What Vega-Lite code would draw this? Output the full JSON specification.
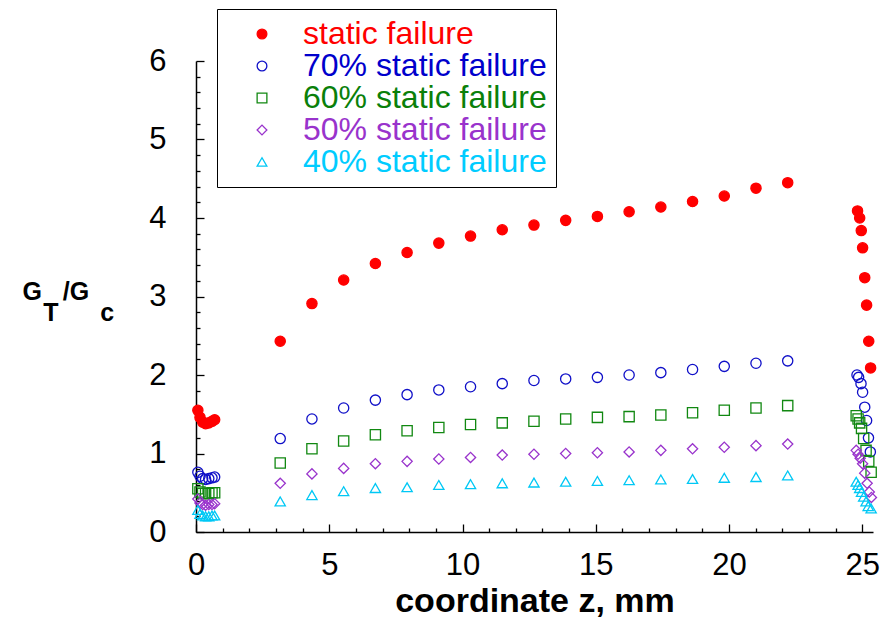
{
  "$schema": "https://vega.github.io/schema/vega-lite/v6.json",
  "width": 677,
  "height": 471,
  "autosize": {"type": "none"},
  "padding": {"left": 196, "top": 61, "right": 19, "bottom": 85},
  "background": "white",
  "config": {
    "view": {"stroke": null},
    "font": "Liberation Sans",
    "axis": {
      "grid": false,
      "domainColor": "black",
      "domainWidth": 1.5,
      "tickColor": "black",
      "tickWidth": 1.3,
      "labelFont": "Liberation Sans",
      "labelFontSize": 31,
      "labelColor": "black",
      "titleFont": "Liberation Sans",
      "titleColor": "black",
      "titleFontWeight": "bold"
    },
    "legend": {
      "title": null,
      "orient": "none",
      "legendX": 21,
      "legendY": -52,
      "strokeColor": "black",
      "fillColor": "white",
      "padding": 9,
      "labelFont": "Liberation Sans",
      "labelFontSize": 32,
      "labelLimit": 600,
      "symbolSize": 95,
      "symbolStrokeWidth": 1.3,
      "symbolOffset": 20,
      "labelOffset": 25,
      "rowPadding": 0
    }
  },
  "data": {
    "values": [
      {"z": 0.07, "g": 1.55, "s": "static failure"},
      {"z": 0.15, "g": 1.46, "s": "static failure"},
      {"z": 0.25, "g": 1.40, "s": "static failure"},
      {"z": 0.36, "g": 1.38, "s": "static failure"},
      {"z": 0.48, "g": 1.39, "s": "static failure"},
      {"z": 0.60, "g": 1.41, "s": "static failure"},
      {"z": 0.70, "g": 1.43, "s": "static failure"},
      {"z": 3.16, "g": 2.43, "s": "static failure"},
      {"z": 4.35, "g": 2.91, "s": "static failure"},
      {"z": 5.54, "g": 3.21, "s": "static failure"},
      {"z": 6.73, "g": 3.42, "s": "static failure"},
      {"z": 7.92, "g": 3.56, "s": "static failure"},
      {"z": 9.11, "g": 3.68, "s": "static failure"},
      {"z": 10.30, "g": 3.77, "s": "static failure"},
      {"z": 11.49, "g": 3.85, "s": "static failure"},
      {"z": 12.68, "g": 3.91, "s": "static failure"},
      {"z": 13.87, "g": 3.97, "s": "static failure"},
      {"z": 15.06, "g": 4.02, "s": "static failure"},
      {"z": 16.25, "g": 4.08, "s": "static failure"},
      {"z": 17.44, "g": 4.14, "s": "static failure"},
      {"z": 18.63, "g": 4.21, "s": "static failure"},
      {"z": 19.82, "g": 4.28, "s": "static failure"},
      {"z": 21.01, "g": 4.38, "s": "static failure"},
      {"z": 22.20, "g": 4.45, "s": "static failure"},
      {"z": 24.82, "g": 4.09, "s": "static failure"},
      {"z": 24.90, "g": 4.00, "s": "static failure"},
      {"z": 24.96, "g": 3.84, "s": "static failure"},
      {"z": 25.01, "g": 3.62, "s": "static failure"},
      {"z": 25.09, "g": 3.24, "s": "static failure"},
      {"z": 25.16, "g": 2.89, "s": "static failure"},
      {"z": 25.24, "g": 2.43, "s": "static failure"},
      {"z": 25.31, "g": 2.09, "s": "static failure"},

      {"z": 0.07, "g": 0.76, "s": "70% static failure"},
      {"z": 0.15, "g": 0.71, "s": "70% static failure"},
      {"z": 0.25, "g": 0.68, "s": "70% static failure"},
      {"z": 0.36, "g": 0.67, "s": "70% static failure"},
      {"z": 0.48, "g": 0.68, "s": "70% static failure"},
      {"z": 0.60, "g": 0.69, "s": "70% static failure"},
      {"z": 0.70, "g": 0.70, "s": "70% static failure"},
      {"z": 3.16, "g": 1.19, "s": "70% static failure"},
      {"z": 4.35, "g": 1.44, "s": "70% static failure"},
      {"z": 5.54, "g": 1.58, "s": "70% static failure"},
      {"z": 6.73, "g": 1.68, "s": "70% static failure"},
      {"z": 7.92, "g": 1.75, "s": "70% static failure"},
      {"z": 9.11, "g": 1.81, "s": "70% static failure"},
      {"z": 10.30, "g": 1.85, "s": "70% static failure"},
      {"z": 11.49, "g": 1.89, "s": "70% static failure"},
      {"z": 12.68, "g": 1.93, "s": "70% static failure"},
      {"z": 13.87, "g": 1.95, "s": "70% static failure"},
      {"z": 15.06, "g": 1.97, "s": "70% static failure"},
      {"z": 16.25, "g": 2.00, "s": "70% static failure"},
      {"z": 17.44, "g": 2.03, "s": "70% static failure"},
      {"z": 18.63, "g": 2.07, "s": "70% static failure"},
      {"z": 19.82, "g": 2.11, "s": "70% static failure"},
      {"z": 21.01, "g": 2.15, "s": "70% static failure"},
      {"z": 22.20, "g": 2.18, "s": "70% static failure"},
      {"z": 24.80, "g": 2.00, "s": "70% static failure"},
      {"z": 24.86, "g": 1.97, "s": "70% static failure"},
      {"z": 24.95, "g": 1.89, "s": "70% static failure"},
      {"z": 25.01, "g": 1.78, "s": "70% static failure"},
      {"z": 25.09, "g": 1.59, "s": "70% static failure"},
      {"z": 25.16, "g": 1.42, "s": "70% static failure"},
      {"z": 25.23, "g": 1.20, "s": "70% static failure"},
      {"z": 25.30, "g": 1.02, "s": "70% static failure"},

      {"z": 0.07, "g": 0.55, "s": "60% static failure"},
      {"z": 0.15, "g": 0.51, "s": "60% static failure"},
      {"z": 0.25, "g": 0.49, "s": "60% static failure"},
      {"z": 0.36, "g": 0.49, "s": "60% static failure"},
      {"z": 0.48, "g": 0.49, "s": "60% static failure"},
      {"z": 0.60, "g": 0.50, "s": "60% static failure"},
      {"z": 0.70, "g": 0.50, "s": "60% static failure"},
      {"z": 3.16, "g": 0.88, "s": "60% static failure"},
      {"z": 4.35, "g": 1.06, "s": "60% static failure"},
      {"z": 5.54, "g": 1.16, "s": "60% static failure"},
      {"z": 6.73, "g": 1.24, "s": "60% static failure"},
      {"z": 7.92, "g": 1.29, "s": "60% static failure"},
      {"z": 9.11, "g": 1.33, "s": "60% static failure"},
      {"z": 10.30, "g": 1.37, "s": "60% static failure"},
      {"z": 11.49, "g": 1.39, "s": "60% static failure"},
      {"z": 12.68, "g": 1.41, "s": "60% static failure"},
      {"z": 13.87, "g": 1.44, "s": "60% static failure"},
      {"z": 15.06, "g": 1.46, "s": "60% static failure"},
      {"z": 16.25, "g": 1.47, "s": "60% static failure"},
      {"z": 17.44, "g": 1.49, "s": "60% static failure"},
      {"z": 18.63, "g": 1.52, "s": "60% static failure"},
      {"z": 19.82, "g": 1.55, "s": "60% static failure"},
      {"z": 21.01, "g": 1.58, "s": "60% static failure"},
      {"z": 22.20, "g": 1.61, "s": "60% static failure"},
      {"z": 24.77, "g": 1.48, "s": "60% static failure"},
      {"z": 24.84, "g": 1.44, "s": "60% static failure"},
      {"z": 24.90, "g": 1.39, "s": "60% static failure"},
      {"z": 24.97, "g": 1.32, "s": "60% static failure"},
      {"z": 25.05, "g": 1.19, "s": "60% static failure"},
      {"z": 25.14, "g": 1.04, "s": "60% static failure"},
      {"z": 25.24, "g": 0.90, "s": "60% static failure"},
      {"z": 25.33, "g": 0.76, "s": "60% static failure"},

      {"z": 0.07, "g": 0.42, "s": "50% static failure"},
      {"z": 0.15, "g": 0.37, "s": "50% static failure"},
      {"z": 0.25, "g": 0.35, "s": "50% static failure"},
      {"z": 0.36, "g": 0.34, "s": "50% static failure"},
      {"z": 0.48, "g": 0.35, "s": "50% static failure"},
      {"z": 0.60, "g": 0.35, "s": "50% static failure"},
      {"z": 0.70, "g": 0.36, "s": "50% static failure"},
      {"z": 3.16, "g": 0.62, "s": "50% static failure"},
      {"z": 4.35, "g": 0.74, "s": "50% static failure"},
      {"z": 5.54, "g": 0.81, "s": "50% static failure"},
      {"z": 6.73, "g": 0.87, "s": "50% static failure"},
      {"z": 7.92, "g": 0.90, "s": "50% static failure"},
      {"z": 9.11, "g": 0.93, "s": "50% static failure"},
      {"z": 10.30, "g": 0.95, "s": "50% static failure"},
      {"z": 11.49, "g": 0.98, "s": "50% static failure"},
      {"z": 12.68, "g": 0.99, "s": "50% static failure"},
      {"z": 13.87, "g": 1.00, "s": "50% static failure"},
      {"z": 15.06, "g": 1.01, "s": "50% static failure"},
      {"z": 16.25, "g": 1.02, "s": "50% static failure"},
      {"z": 17.44, "g": 1.04, "s": "50% static failure"},
      {"z": 18.63, "g": 1.06, "s": "50% static failure"},
      {"z": 19.82, "g": 1.08, "s": "50% static failure"},
      {"z": 21.01, "g": 1.10, "s": "50% static failure"},
      {"z": 22.20, "g": 1.12, "s": "50% static failure"},
      {"z": 24.77, "g": 1.04, "s": "50% static failure"},
      {"z": 24.84, "g": 0.99, "s": "50% static failure"},
      {"z": 24.92, "g": 0.94, "s": "50% static failure"},
      {"z": 25.01, "g": 0.87, "s": "50% static failure"},
      {"z": 25.09, "g": 0.75, "s": "50% static failure"},
      {"z": 25.18, "g": 0.62, "s": "50% static failure"},
      {"z": 25.26, "g": 0.51, "s": "50% static failure"},
      {"z": 25.34, "g": 0.44, "s": "50% static failure"},

      {"z": 0.07, "g": 0.28, "s": "40% static failure"},
      {"z": 0.15, "g": 0.23, "s": "40% static failure"},
      {"z": 0.25, "g": 0.21, "s": "40% static failure"},
      {"z": 0.36, "g": 0.20, "s": "40% static failure"},
      {"z": 0.48, "g": 0.20, "s": "40% static failure"},
      {"z": 0.60, "g": 0.21, "s": "40% static failure"},
      {"z": 0.70, "g": 0.21, "s": "40% static failure"},
      {"z": 3.16, "g": 0.39, "s": "40% static failure"},
      {"z": 4.35, "g": 0.47, "s": "40% static failure"},
      {"z": 5.54, "g": 0.52, "s": "40% static failure"},
      {"z": 6.73, "g": 0.56, "s": "40% static failure"},
      {"z": 7.92, "g": 0.57, "s": "40% static failure"},
      {"z": 9.11, "g": 0.60, "s": "40% static failure"},
      {"z": 10.30, "g": 0.61, "s": "40% static failure"},
      {"z": 11.49, "g": 0.62, "s": "40% static failure"},
      {"z": 12.68, "g": 0.63, "s": "40% static failure"},
      {"z": 13.87, "g": 0.64, "s": "40% static failure"},
      {"z": 15.06, "g": 0.65, "s": "40% static failure"},
      {"z": 16.25, "g": 0.66, "s": "40% static failure"},
      {"z": 17.44, "g": 0.67, "s": "40% static failure"},
      {"z": 18.63, "g": 0.675, "s": "40% static failure"},
      {"z": 19.82, "g": 0.69, "s": "40% static failure"},
      {"z": 21.01, "g": 0.70, "s": "40% static failure"},
      {"z": 22.20, "g": 0.72, "s": "40% static failure"},
      {"z": 24.77, "g": 0.64, "s": "40% static failure"},
      {"z": 24.84, "g": 0.60, "s": "40% static failure"},
      {"z": 24.90, "g": 0.56, "s": "40% static failure"},
      {"z": 24.97, "g": 0.51, "s": "40% static failure"},
      {"z": 25.05, "g": 0.45, "s": "40% static failure"},
      {"z": 25.14, "g": 0.39, "s": "40% static failure"},
      {"z": 25.22, "g": 0.33, "s": "40% static failure"},
      {"z": 25.33, "g": 0.30, "s": "40% static failure"}
    ]
  },
  "mark": {"type": "point", "filled": false, "strokeWidth": 1.3, "opacity": 1, "size": 105},
  "encoding": {
    "x": {
      "field": "z",
      "type": "quantitative",
      "scale": {"domain": [0, 25.4], "nice": false, "zero": false},
      "axis": {
        "title": "coordinate z, mm",
        "titleFontSize": 34,
        "titlePadding": 0,
        "values": [0,1,2,3,4,5,6,7,8,9,10,11,12,13,14,15,16,17,18,19,20,21,22,23,24,25],
        "labelExpr": "datum.value % 5 === 0 ? datum.label : ''",
        "tickSize": {"condition": {"test": "datum.value % 5 === 0", "value": -8}, "value": -4},
        "labelPadding": 26,
        "labelFlush": false,
        "labelOverlap": false
      }
    },
    "y": {
      "field": "g",
      "type": "quantitative",
      "scale": {"domain": [0, 6], "nice": false},
      "axis": {
        "title": ["G\u00a0\u00a0\u00a0/G", "\u200b\u00a0\u00a0\u00a0T\u00a0\u00a0\u00a0\u00a0\u00a0\u00a0c"],
        "titleFontSize": 25,
        "titleAngle": 0,
        "titleAlign": "left",
        "titleBaseline": "alphabetic",
        "titleLineHeight": 21,
        "titleX": -174,
        "titleY": 238,
        "values": [0,0.2,0.4,0.6,0.8,1,1.2,1.4,1.6,1.8,2,2.2,2.4,2.6,2.8,3,3.2,3.4,3.6,3.8,4,4.2,4.4,4.6,4.8,5,5.2,5.4,5.6,5.8,6],
        "format": ".0f",
        "labelExpr": "abs(datum.value - round(datum.value)) < 0.001 ? datum.label : ''",
        "tickSize": {"condition": {"test": "abs(datum.value - round(datum.value)) < 0.001", "value": -8}, "value": -4},
        "labelPadding": 38,
        "labelOverlap": false,
        "labelFlush": false
      }
    },
    "color": {
      "field": "s",
      "type": "nominal",
      "scale": {
        "domain": ["static failure", "70% static failure", "60% static failure", "50% static failure", "40% static failure"],
        "range": ["#ff0000", "#1010c8", "#118811", "#9933cc", "#00c8f5"]
      },
      "legend": {
        "labelColor": {"expr": "datum.value === 'static failure' ? '#ff0000' : datum.value === '70% static failure' ? '#0000cc' : datum.value === '60% static failure' ? '#0a800a' : datum.value === '50% static failure' ? '#9933cc' : '#00ccff'"}
      }
    },
    "fill": {
      "field": "s",
      "type": "nominal",
      "scale": {
        "domain": ["static failure", "70% static failure", "60% static failure", "50% static failure", "40% static failure"],
        "range": ["#ff0000", "transparent", "transparent", "transparent", "transparent"]
      },
      "legend": {
        "labelColor": {"expr": "datum.value === 'static failure' ? '#ff0000' : datum.value === '70% static failure' ? '#0000cc' : datum.value === '60% static failure' ? '#0a800a' : datum.value === '50% static failure' ? '#9933cc' : '#00ccff'"}
      }
    },
    "shape": {
      "field": "s",
      "type": "nominal",
      "scale": {
        "domain": ["static failure", "70% static failure", "60% static failure", "50% static failure", "40% static failure"],
        "range": ["circle", "circle", "square", "diamond", "triangle-up"]
      },
      "legend": {
        "labelColor": {"expr": "datum.value === 'static failure' ? '#ff0000' : datum.value === '70% static failure' ? '#0000cc' : datum.value === '60% static failure' ? '#0a800a' : datum.value === '50% static failure' ? '#9933cc' : '#00ccff'"}
      }
    }
  }
}
